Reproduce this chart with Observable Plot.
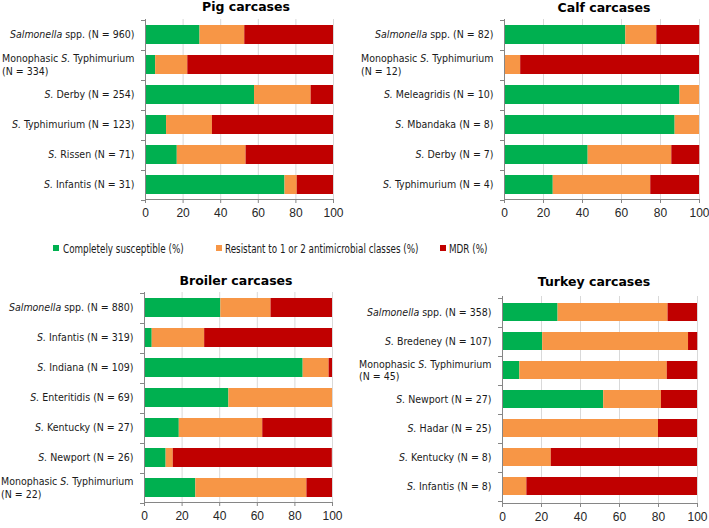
<!DOCTYPE html>
<html><head><meta charset="utf-8">
<script src="https://cdn.jsdelivr.net/npm/d3@7"></script>
<script src="https://cdn.jsdelivr.net/npm/@observablehq/plot@0.6"></script>
<style>
html,body{margin:0;padding:0;background:#fff;}
#root{position:relative;width:709px;height:528px;overflow:hidden;background:#fff;}
.panel{position:absolute;}
.title{position:absolute;font-family:"DejaVu Sans",sans-serif;font-weight:bold;font-size:12.5px;color:#000;text-align:center;width:240px;line-height:14px;white-space:nowrap;}
.leg{position:absolute;font-family:"DejaVu Sans Condensed","DejaVu Sans",sans-serif;font-stretch:condensed;font-size:11.5px;line-height:14px;color:#1a1a1a;white-space:nowrap;transform:scaleX(0.85);transform-origin:0 50%;}
.sw{position:absolute;width:6px;height:6px;}
</style></head><body><div id="root"></div><script>
// ---- data ----
const keys = ["Completely susceptible (%)", "Resistant to 1 or 2 antimicrobial classes (%)", "MDR (%)"];
const colors = ["#00b050", "#f79646", "#c00000"];
const xTicks = [0, 20, 40, 60, 80, 100];

const pigCats = ["<i>Salmonella</i> spp. (N = 960)", "Monophasic <i>S.</i> Typhimurium|(N = 334)", "<i>S.</i> Derby (N = 254)", "<i>S.</i> Typhimurium (N = 123)", "<i>S.</i> Rissen (N = 71)", "<i>S.</i> Infantis (N = 31)"];
const pigSus = [29.0, 5.4, 58.0, 11.2, 16.9, 74.2];
const pigRes = [23.8, 17.1, 30.1, 24.4, 36.6, 6.5];
const pigMdr = [47.2, 77.5, 11.9, 64.4, 46.5, 19.3];

const calfCats = ["<i>Salmonella</i> spp. (N = 82)", "Monophasic <i>S.</i> Typhimurium|(N = 12)", "<i>S.</i> Meleagridis (N = 10)", "<i>S.</i> Mbandaka (N = 8)", "<i>S.</i> Derby (N = 7)", "<i>S.</i> Typhimurium (N = 4)"];
const calfSus = [62.2, 0, 90, 87.5, 42.9, 25];
const calfRes = [15.9, 8.3, 10, 12.5, 42.9, 50];
const calfMdr = [22.0, 91.7, 0, 0, 14.3, 25];

const broilerCats = ["<i>Salmonella</i> spp. (N = 880)", "<i>S.</i> Infantis (N = 319)", "<i>S.</i> Indiana (N = 109)", "<i>S.</i> Enteritidis (N = 69)", "<i>S.</i> Kentucky (N = 27)", "<i>S.</i> Newport (N = 26)", "Monophasic <i>S.</i> Typhimurium|(N = 22)"];
const broilerSus = [40.6, 4.1, 84.4, 44.9, 18.5, 11.5, 27.3];
const broilerRes = [26.7, 27.9, 13.8, 55.1, 44.4, 3.8, 59.1];
const broilerMdr = [32.7, 68.0, 1.8, 0, 37.0, 84.6, 13.6];

const turkeyCats = ["<i>Salmonella</i> spp. (N = 358)", "<i>S.</i> Bredeney (N = 107)", "Monophasic <i>S.</i> Typhimurium|(N = 45)", "<i>S.</i> Newport (N = 27)", "<i>S.</i> Hadar (N = 25)", "<i>S.</i> Kentucky (N = 8)", "<i>S.</i> Infantis (N = 8)"];
const turkeySus = [28.5, 20.6, 8.9, 51.9, 0, 0, 0];
const turkeyRes = [56.4, 74.8, 75.6, 29.6, 80, 25, 12.5];
const turkeyMdr = [15.1, 4.7, 15.6, 18.5, 20, 75, 87.5];

const titles = ["Pig carcases", "Calf carcases", "Broiler carcases", "Turkey carcases"];

// ---- drawing ----
const root = document.getElementById("root");
const axisColor = "#868686";
const SVGNS = "http://www.w3.org/2000/svg";
const plain = s => s.replace(/<\/?i>/g, "").replace("|", " ");

function fillRich(el, line) {
  line.split(/(<i>.*?<\/i>)/).filter(s => s.length).forEach(seg => {
    const ts = document.createElementNS(SVGNS, "tspan");
    if (seg.startsWith("<i>")) { ts.setAttribute("font-style", "italic"); ts.textContent = seg.slice(3, -4); }
    else ts.textContent = seg;
    el.appendChild(ts);
  });
}

function panel(cfg) {
  const {cats, sus, res, mdr, left, top, ml, mt, pw, ph, mr, mb, title, tx, ty} = cfg;
  const rows = [];
  cats.forEach((c, i) => [sus[i], res[i], mdr[i]].forEach((v, k) => rows.push({cat: c, key: keys[k], v})));
  const svg = Plot.plot({
    width: ml + pw + mr, height: mt + ph + mb,
    marginLeft: ml, marginRight: mr, marginTop: mt, marginBottom: mb,
    style: {background: "transparent", fontFamily: "'Liberation Sans', Arial, sans-serif", fontSize: "12px", color: "#262626", overflow: "visible"},
    x: {domain: [0, 100]},
    y: {domain: cats, paddingInner: 0.367, paddingOuter: 0.1835},
    color: {domain: keys, range: colors},
    marks: [
      Plot.gridX({ticks: xTicks, stroke: "#d9d9d9", strokeOpacity: 1}),
      Plot.barX(rows, {x: "v", y: "cat", fill: "key"}),
      Plot.ruleX([0], {stroke: axisColor}),
      Plot.frame({anchor: "bottom", stroke: axisColor}),
      Plot.axisX({ticks: xTicks, tickSize: 4, tickPadding: 5, stroke: axisColor, label: null}),
      Plot.axisY({tickSize: 0, tickPadding: 11, tickFormat: plain, label: null})
    ]
  });
  const holder = document.createElement("div");
  holder.className = "panel";
  holder.style.left = left + "px"; holder.style.top = top + "px";
  holder.appendChild(svg);
  root.appendChild(holder);

  const t = document.createElement("div");
  t.className = "title"; t.textContent = title;
  t.style.left = (tx - 120) + "px"; t.style.top = ty + "px";
  root.appendChild(t);

  // x tick label color
  svg.querySelectorAll('g[aria-label="x-axis tick label"]').forEach(g => g.setAttribute("fill", "#262626"));

  // rich y tick labels
  const map = new Map(cats.map(c => [plain(c), c]));
  const yg = svg.querySelector('g[aria-label="y-axis tick label"]');
  if (yg) {
    yg.setAttribute("font-family", "'DejaVu Sans Condensed', 'DejaVu Sans', sans-serif");
    yg.setAttribute("font-size", "10.5");
    yg.setAttribute("fill", "#1a1a1a");
    yg.style.fontStretch = "condensed";
    Array.from(yg.querySelectorAll("text")).forEach(txt => {
      const m = map.get(txt.textContent);
      if (!m) return;
      const lines = m.split("|");
      txt.textContent = "";
      const els = lines.map((line, j) => {
        const el = j === 0 ? txt : txt.cloneNode(false);
        if (j > 0) yg.appendChild(el);
        fillRich(el, line);
        return el;
      });
      if (els.length > 1) {
        const maxW = Math.max(...els.map(e => e.getComputedTextLength()));
        els.forEach((e, j) => {
          e.setAttribute("text-anchor", "start");
          e.setAttribute("x", -maxW);
          e.setAttribute("y", (j === 0 ? -0.28 : 0.92) + "em");
        });
      }
    });
  }

  // category boundary ticks on the y axis
  const ys = svg.scale("y");
  const b0 = ys.apply(cats[0]);
  const step = ys.apply(cats[1]) - b0;
  const off = (step - ys.bandwidth) / 2;
  d3.select(svg).append("g").attr("stroke", axisColor)
    .selectAll("line").data(d3.range(cats.length + 1)).join("line")
    .attr("x1", ml - 4).attr("x2", ml)
    .attr("y1", i => Math.round(b0 - off + i * step) + 0.5)
    .attr("y2", i => Math.round(b0 - off + i * step) + 0.5);
}

panel({cats: pigCats, sus: pigSus, res: pigRes, mdr: pigMdr, left: 0, top: 0, ml: 145, mt: 19, pw: 188, ph: 180, mr: 12, mb: 30, title: titles[0], tx: 246, ty: 0});
panel({cats: calfCats, sus: calfSus, res: calfRes, mdr: calfMdr, left: 354, top: 0, ml: 150, mt: 19, pw: 195, ph: 180, mr: 10, mb: 30, title: titles[1], tx: 604, ty: 1});
panel({cats: broilerCats, sus: broilerSus, res: broilerRes, mdr: broilerMdr, left: 0, top: 262, ml: 144, mt: 30, pw: 188, ph: 210, mr: 13, mb: 26, title: titles[2], tx: 236, ty: 274});
panel({cats: turkeyCats, sus: turkeySus, res: turkeyRes, mdr: turkeyMdr, left: 354, top: 262, ml: 148, mt: 34, pw: 195, ph: 207, mr: 10, mb: 25, title: titles[3], tx: 594, ty: 274.5});

// legend
const legX = [[53, 63], [216, 225], [440, 449]];
keys.forEach((k, i) => {
  const sw = document.createElement("div");
  sw.className = "sw"; sw.style.background = colors[i];
  sw.style.left = legX[i][0] + "px"; sw.style.top = "245px";
  root.appendChild(sw);
  const lb = document.createElement("div");
  lb.className = "leg"; lb.textContent = k;
  lb.style.left = legX[i][1] + "px"; lb.style.top = "241.5px";
  root.appendChild(lb);
});
</script></body></html>
